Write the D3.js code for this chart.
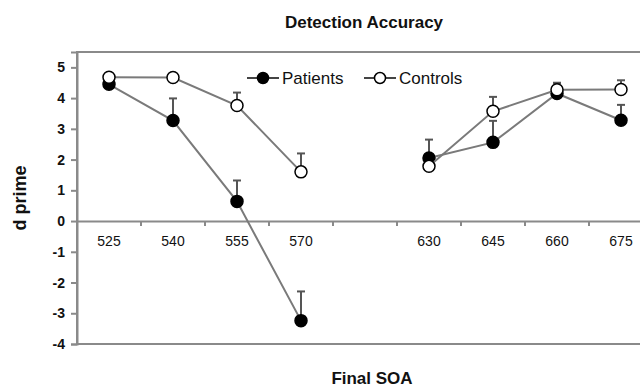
<!DOCTYPE html>
<html>
<head>
<meta charset="utf-8">
<script src="https://cdn.jsdelivr.net/npm/d3@7"></script>
<style>
  body { margin: 0; background: #fff; }
  svg { display: block; }
  text { font-family: "Liberation Sans", Arial, sans-serif; fill: #111; }
</style>
</head>
<body>
<div id="chart"></div>
<script>
// slots on the x axis, one is left empty between 570 and 630
var soaSlots = ["525", "540", "555", "570", "gap", "630", "645", "660", "675"];
var yTicks = [-4, -3, -2, -1, 0, 1, 2, 3, 4, 5];

var patients    = [4.45, 3.27, 0.64, -3.24, null, 2.05, 2.56, 4.15, 3.28];
var patientsErr = [0.05, 0.72, 0.68, 0.95, null, 0.6, 0.7, 0.35, 0.5];
var controls    = [4.68, 4.67, 3.76, 1.6, null, 1.78, 3.57, 4.27, 4.28];
var controlsErr = [0.02, 0.02, 0.42, 0.6, null, 0.1, 0.47, 0.22, 0.3];

var svgWidth = 640;
var svgHeight = 389;

var margin = { top: 52, left: 77 };
var plotRight = 653;   // the plot runs past the right edge of the picture
var plotBottom = 344;

var svg = d3.select("#chart")
  .append("svg")
  .attr("width", svgWidth)
  .attr("height", svgHeight);

var xScale = d3.scaleBand()
  .domain(soaSlots)
  .range([margin.left, plotRight]);

var yScale = d3.scaleLinear()
  .domain([-4, 5.5])
  .range([plotBottom, margin.top]);

var axisGray = "#8a8a8a";

// plot frame
svg.append("rect")
  .attr("x", margin.left)
  .attr("y", margin.top)
  .attr("width", plotRight - margin.left)
  .attr("height", plotBottom - margin.top)
  .attr("fill", "none")
  .attr("stroke", axisGray)
  .attr("stroke-width", 2);

// y axis (plain hyphen for negatives, like the original)
var leftAxis = d3.axisLeft(yScale)
  .tickValues(yTicks)
  .tickFormat(d => String(d))
  .tickSize(6)
  .tickPadding(6);

var yAxisG = svg.append("g")
  .attr("transform", `translate(${margin.left},0)`)
  .call(leftAxis);
yAxisG.select(".domain").attr("stroke", axisGray).attr("stroke-width", 2);
yAxisG.selectAll(".tick line").attr("stroke", axisGray).attr("stroke-width", 2);
yAxisG.selectAll(".tick text")
  .style("font-size", "14px")
  .style("font-weight", "bold")
  .attr("fill", "#111");

// x axis sitting on zero
var bottomAxis = d3.axisBottom(xScale)
  .tickSize(0)
  .tickPadding(15)
  .tickFormat(d => d == "gap" ? "" : d);

var xAxisG = svg.append("g")
  .attr("transform", `translate(0,${yScale(0)})`)
  .call(bottomAxis);
xAxisG.select(".domain").attr("stroke", axisGray).attr("stroke-width", 2);
xAxisG.selectAll(".tick text")
  .style("font-size", "14px")
  .attr("fill", "#000");

// tick marks between the slots
xAxisG.selectAll(".slotTick")
  .data(soaSlots.slice(1))
  .enter()
  .append("line")
  .attr("x1", d => xScale(d))
  .attr("x2", d => xScale(d))
  .attr("y1", 0)
  .attr("y2", 5)
  .attr("stroke", axisGray)
  .attr("stroke-width", 2);

function drawSeries(values, errs, filled) {
  var pts = soaSlots.map((s, i) => ({ slot: s, v: values[i], e: errs[i] }));

  var line = d3.line()
    .defined(d => d.v != null)
    .x(d => xScale(d.slot) + xScale.bandwidth() / 2)
    .y(d => yScale(d.v));

  svg.append("path")
    .datum(pts)
    .attr("d", line)
    .attr("fill", "none")
    .attr("stroke", "#7a7a7a")
    .attr("stroke-width", 2);

  var valid = pts.filter(d => d.v != null);

  // error bars, upward only
  svg.selectAll(null)
    .data(valid)
    .enter()
    .append("line")
    .attr("x1", d => xScale(d.slot) + xScale.bandwidth() / 2)
    .attr("x2", d => xScale(d.slot) + xScale.bandwidth() / 2)
    .attr("y1", d => yScale(d.v))
    .attr("y2", d => yScale(d.v + d.e))
    .attr("stroke", "#555")
    .attr("stroke-width", 2);

  svg.selectAll(null)
    .data(valid)
    .enter()
    .append("line")
    .attr("x1", d => xScale(d.slot) + xScale.bandwidth() / 2 - 4)
    .attr("x2", d => xScale(d.slot) + xScale.bandwidth() / 2 + 4)
    .attr("y1", d => yScale(d.v + d.e))
    .attr("y2", d => yScale(d.v + d.e))
    .attr("stroke", "#555")
    .attr("stroke-width", 2);

  svg.selectAll(null)
    .data(valid)
    .enter()
    .append("circle")
    .attr("cx", d => xScale(d.slot) + xScale.bandwidth() / 2)
    .attr("cy", d => yScale(d.v))
    .attr("r", 6)
    .attr("fill", filled ? "#000" : "#fff")
    .attr("stroke", "#000")
    .attr("stroke-width", 1.5);
}

drawSeries(patients, patientsErr, true);
drawSeries(controls, controlsErr, false);

// legend
var legend = [
  { name: "Patients", filled: true, x: 247 },
  { name: "Controls", filled: false, x: 364 }
];
var legendY = 78;
legend.forEach(function(l) {
  svg.append("line")
    .attr("x1", l.x).attr("x2", l.x + 32)
    .attr("y1", legendY).attr("y2", legendY)
    .attr("stroke", "#444").attr("stroke-width", 2);
  svg.append("circle")
    .attr("cx", l.x + 16).attr("cy", legendY).attr("r", 5.5)
    .attr("fill", l.filled ? "#000" : "#fff")
    .attr("stroke", "#000").attr("stroke-width", 1.5);
  svg.append("text")
    .attr("x", l.x + 35).attr("y", legendY + 6)
    .style("font-size", "17px")
    .text(l.name);
});

// titles
svg.append("text")
  .attr("x", 364).attr("y", 28)
  .attr("text-anchor", "middle")
  .style("font-size", "17px")
  .style("font-weight", "bold")
  .text("Detection Accuracy");

svg.append("text")
  .attr("x", 372).attr("y", 384)
  .attr("text-anchor", "middle")
  .style("font-size", "17px")
  .style("font-weight", "bold")
  .text("Final SOA");

svg.append("text")
  .attr("transform", `translate(26, ${(margin.top + plotBottom) / 2})rotate(-90)`)
  .attr("text-anchor", "middle")
  .style("font-size", "18px")
  .style("font-weight", "bold")
  .text("d prime");
</script>
</body>
</html>
